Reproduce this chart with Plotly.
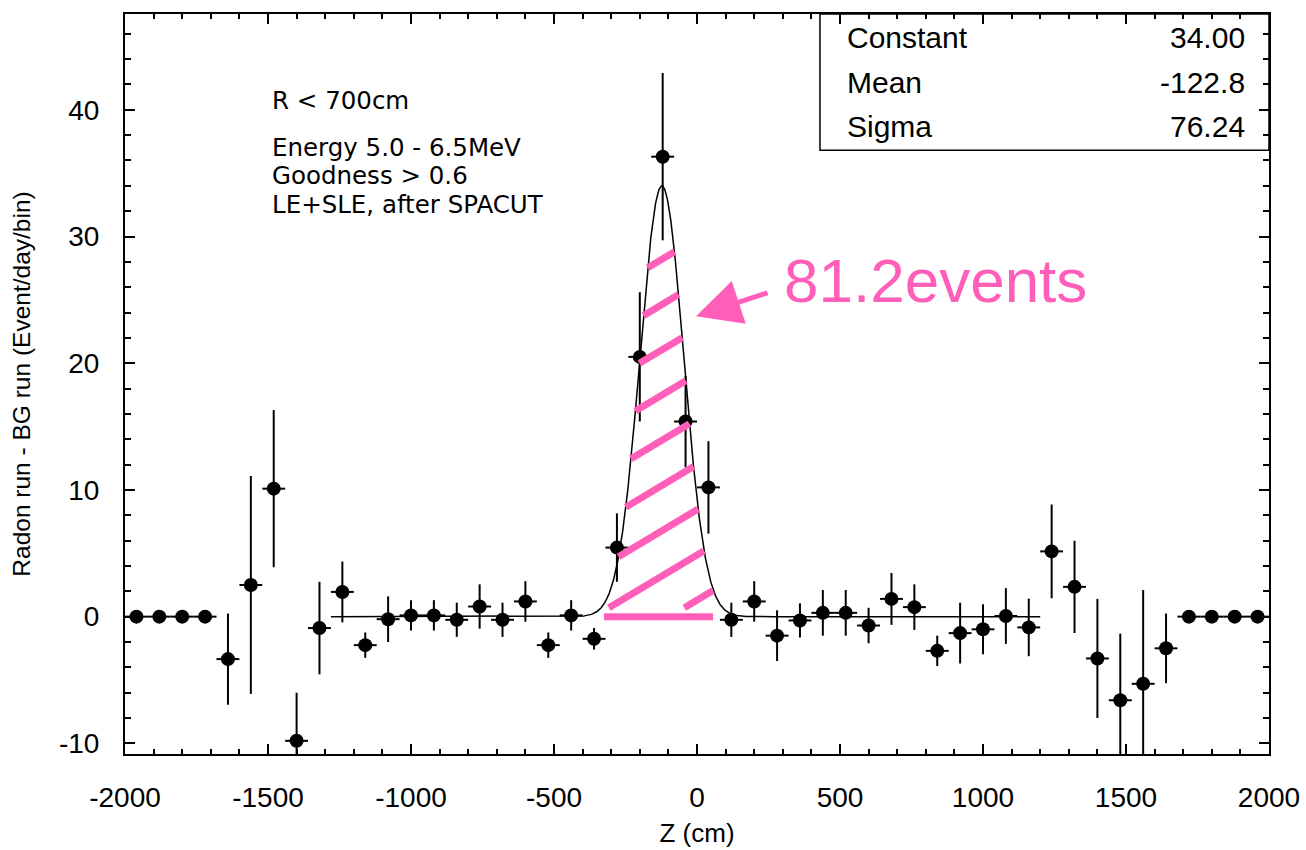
import numpy as np
import plotly.graph_objects as go

# ---------------- data ----------------
z_cm = [-1960, -1880, -1800, -1720, -1640, -1560, -1480, -1400, -1320, -1240,
        -1160, -1080, -1000, -920, -840, -760, -680, -600, -520, -440,
        -360, -280, -200, -120, -40, 40, 120, 200, 280, 360,
        440, 520, 600, 680, 760, 840, 920, 1000, 1080, 1160,
        1240, 1320, 1400, 1480, 1560, 1640, 1720, 1800, 1880, 1960]
rate = [0, 0, 0, 0, -3.35, 2.5, 10.1, -9.8, -0.9, 1.95,
        -2.25, -0.2, 0.1, 0.1, -0.25, 0.8, -0.25, 1.2, -2.25, 0.1,
        -1.75, 5.45, 20.5, 36.3, 15.4, 10.2, -0.25, 1.2, -1.5, -0.3,
        0.3, 0.3, -0.7, 1.4, 0.75, -2.7, -1.3, -1.0, 0.05, -0.85,
        5.15, 2.35, -3.3, -6.6, -5.3, -2.5, 0, 0, 0, 0]
rate_err = [0, 0, 0, 0, 3.6, 8.6, 6.2, 3.8, 3.65, 2.4,
            1.0, 1.8, 1.2, 1.2, 1.35, 1.75, 1.35, 1.6, 1.0, 1.2,
            0.85, 2.7, 5.1, 6.6, 3.6, 3.65, 1.35, 1.6, 2.0, 1.35,
            1.8, 1.8, 1.4, 2.05, 1.8, 1.2, 2.4, 1.97, 2.2, 2.27,
            3.7, 3.64, 4.7, 5.26, 7.4, 2.75, 0, 0, 0, 0]
bin_half_width = 40

fit_constant = 34.00
fit_mean = -122.8
fit_sigma = 76.24
fit_range = [-1280, 1200]
signal_label = "81.2events"
signal_range = [-325, 56]

cut_lines = ["R &lt; 700cm", "Energy 5.0 - 6.5MeV", "Goodness &gt; 0.6", "LE+SLE, after SPACUT"]
stat_names = ["Constant", "Mean", "Sigma"]
stat_values = ["%.2f" % fit_constant, "%.1f" % fit_mean, "%.2f" % fit_sigma]

x_ticks = [-2000, -1500, -1000, -500, 0, 500, 1000, 1500, 2000]
x_tick_labels = ["-2000", "-1500", "-1000", "-500", "0", "500", "1000", "1500", "2000"]
y_ticks = [-10, 0, 10, 20, 30, 40]
y_tick_labels = ["-10", "0", "10", "20", "30", "40"]

# ---------------- style ----------------
PINK = "#FF5FB8"
FONT = "Liberation Sans, Arial, Helvetica, sans-serif"
FONT_WIDE = "DejaVu Sans, Liberation Sans, sans-serif"


def gauss(x):
    return fit_constant * np.exp(-0.5 * ((x - fit_mean) / fit_sigma) ** 2)


fig = go.Figure()

# fitted gaussian
xf = np.linspace(fit_range[0], fit_range[1], 2481)
fig.add_trace(go.Scatter(x=xf, y=gauss(xf), mode="lines",
                         line=dict(color="black", width=1.5),
                         hoverinfo="skip", showlegend=False))

# data points
fig.add_trace(go.Scatter(
    x=z_cm, y=rate, mode="markers",
    marker=dict(color="black", size=14, symbol="circle"),
    error_y=dict(type="data", array=rate_err, visible=True, color="black",
                 thickness=2, width=0),
    error_x=dict(type="constant", value=bin_half_width, visible=True,
                 color="black", thickness=2, width=0),
    showlegend=False))

# hatched signal region (hand-drawn style overlay)
slope = 0.01353
xs = np.linspace(signal_range[0], signal_range[1], 4000)
hx, hy = [], []
for c in np.arange(1.3, 31.0, 3.57):
    yl = c + slope * xs
    ok = (yl >= 0.7) & (yl <= gauss(xs))
    if not ok.any():
        continue
    idx = np.where(ok)[0]
    x0, x1 = xs[idx[0]], xs[idx[-1]]
    hx += [x0, x1, None]
    hy += [c + slope * x0, c + slope * x1, None]
fig.add_trace(go.Scatter(x=hx, y=hy, mode="lines",
                         line=dict(color=PINK, width=7),
                         hoverinfo="skip", showlegend=False))
fig.add_trace(go.Scatter(x=signal_range, y=[0, 0], mode="lines",
                         line=dict(color=PINK, width=7),
                         hoverinfo="skip", showlegend=False))

axis_common = dict(
    showline=True, linecolor="black", linewidth=2, mirror="allticks",
    ticks="inside", tickcolor="black", tickwidth=1.5,
    showgrid=False, zeroline=False, automargin=False,
    tickfont=dict(family=FONT, size=28, color="black"),
)

fig.update_xaxes(range=[-2000, 2000], tickvals=x_ticks, ticktext=x_tick_labels,
                 ticklen=10,
                 minor=dict(dtick=100, ticklen=5, ticks="inside",
                            tickcolor="black", tickwidth=1.5, showgrid=False),
                 ticklabelstandoff=17,
                 title=dict(text="Z (cm)", font=dict(family=FONT, size=26, color="black"),
                            standoff=12),
                 **axis_common)
fig.update_yaxes(range=[-10.84, 47.56], tickvals=y_ticks, ticktext=y_tick_labels,
                 ticklen=10,
                 minor=dict(dtick=2, ticklen=6, ticks="inside",
                            tickcolor="black", tickwidth=1.5, showgrid=False),
                 ticklabelstandoff=18,
                 title=dict(text="Radon run - BG run (Event/day/bin)",
                            font=dict(family=FONT, size=24.5, color="black"),
                            standoff=21),
                 **axis_common)

annotations = []
# cut description
cut_px = [100, 147, 175.5, 204]
for t, py in zip(cut_lines, cut_px):
    annotations.append(dict(text=t, xref="paper", yref="paper", x=0.1267,
                            y=(754 - py) / 740.0,
                            xanchor="left", yanchor="middle", showarrow=False,
                            font=dict(family=FONT_WIDE, size=24.5, color="black")))
# stats box
row_y = [0.9676, 0.9068, 0.8473]
for n, v, yy in zip(stat_names, stat_values, row_y):
    annotations.append(dict(text=n, xref="paper", yref="paper", x=0.629, y=yy,
                            xanchor="left", yanchor="middle", showarrow=False,
                            font=dict(family=FONT, size=30, color="black")))
    annotations.append(dict(text=v, xref="paper", yref="paper", x=0.981, y=yy,
                            xanchor="right", yanchor="middle", showarrow=False,
                            font=dict(family=FONT, size=30, color="black")))
# pink label + arrow
annotations.append(dict(text=signal_label, x=833, y=26.5, xref="x", yref="y",
                        xanchor="center", yanchor="middle", showarrow=False,
                        font=dict(family=FONT, size=62, color=PINK)))
annotations.append(dict(text="", x=-3.5, y=23.7, xref="x", yref="y",
                        ax=73, ay=-24, showarrow=True, arrowhead=2,
                        arrowsize=1.8, arrowwidth=5, arrowcolor=PINK, standoff=0))

fig.update_layout(
    width=1306, height=850,
    margin=dict(l=125, r=37, t=14, b=96),
    paper_bgcolor="white", plot_bgcolor="white",
    annotations=annotations,
    shapes=[dict(type="rect", xref="paper", yref="paper",
                 x0=0.6075, x1=1.0, y0=0.816, y1=1.0,
                 line=dict(color="black", width=1.5), fillcolor="rgba(0,0,0,0)")],
    showlegend=False,
)

fig.write_html("out.html")
